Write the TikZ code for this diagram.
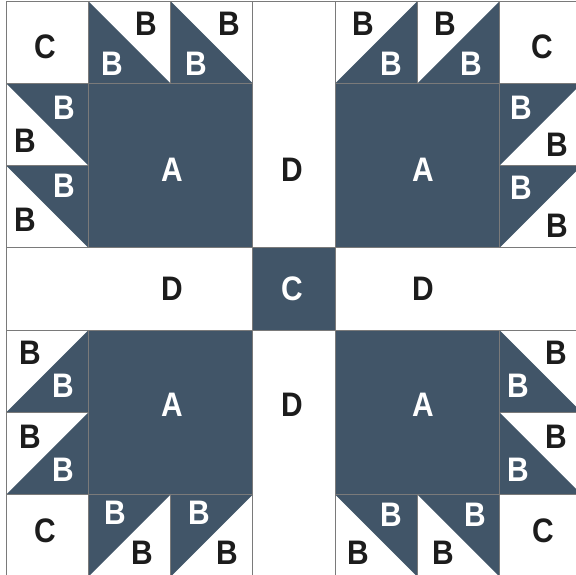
\documentclass[tikz,border=0pt]{standalone}
\usepackage{fontspec}
\setmainfont{Liberation Sans}
\newfontfamily\quiltfont[FakeStretch=0.88]{Liberation Sans}
\definecolor{quiltdark}{HTML}{415568}
\definecolor{gridgray}{HTML}{7A7A7A}
\definecolor{inkblack}{HTML}{1C1C1C}
\newcommand\qx[1]{6.3+(#1)*82.2}
\newcommand\qy[1]{1.3+(#1)*82.2}
\begin{document}
\begin{tikzpicture}[x=1pt,y=-1pt,
  piece/.style={draw=gridgray,line width=1.1pt},
  darkfill/.style={fill=quiltdark},
  lbl/.style={font=\quiltfont\fontsize{34}{34}\selectfont\bfseries,inner sep=0pt,anchor=center},
  lblw/.style={lbl,text=white},
  lblk/.style={lbl,text=inkblack}]
\useasboundingbox (0,0) rectangle (576,575);
\fill[white] (0,0) rectangle (576,575);
\begin{scope}
\clip (0,0) rectangle (576,575);
% dark squares
\foreach \c/\r/\w in {1/1/2,4/1/2,1/4/2,4/4/2,3/3/1}
  \fill[darkfill] ({\qx{\c}},{\qy{\r}}) rectangle ({\qx{\c+\w}},{\qy{\r+\w}});
% dark half-square triangles
\foreach \ax/\ay/\bx/\by/\cx/\cy in {
  1/0/1/1/2/1, 2/0/2/1/3/1, 0/1/1/1/1/2, 0/2/1/2/1/3,
  4/1/5/1/5/0, 5/1/6/1/6/0, 6/1/7/1/6/2, 6/2/7/2/6/3,
  0/5/1/5/1/4, 0/6/1/6/1/5, 1/6/2/6/1/7, 2/6/3/6/2/7,
  6/4/6/5/7/5, 6/5/6/6/7/6, 4/6/5/6/5/7, 5/6/6/6/6/7}
  \fill[darkfill] ({\qx{\ax}},{\qy{\ay}}) -- ({\qx{\bx}},{\qy{\by}}) -- ({\qx{\cx}},{\qy{\cy}}) -- cycle;
% piece outlines: unit squares
\foreach \c/\r in {0/0,1/0,2/0,4/0,5/0,6/0,0/1,0/2,6/1,6/2,0/4,0/5,6/4,6/5,0/6,1/6,2/6,4/6,5/6,6/6,3/3}
  \draw[piece] ({\qx{\c}},{\qy{\r}}) rectangle ({\qx{\c+1}},{\qy{\r+1}});
% A squares
\foreach \c/\r in {1/1,4/1,1/4,4/4}
  \draw[piece] ({\qx{\c}},{\qy{\r}}) rectangle ({\qx{\c+2}},{\qy{\r+2}});
% D strips
\draw[piece] ({\qx{3}},{\qy{0}}) rectangle ({\qx{4}},{\qy{3}});
\draw[piece] ({\qx{3}},{\qy{4}}) rectangle ({\qx{4}},{\qy{7}});
\draw[piece] ({\qx{0}},{\qy{3}}) rectangle ({\qx{3}},{\qy{4}});
\draw[piece] ({\qx{4}},{\qy{3}}) rectangle ({\qx{7}},{\qy{4}});
\end{scope}
% labels: top row
\node[lblk] (c1) at (45,47) {C};
\node[lblk] (b1) at (146,24) {B};
\node[lblw] (b2) at (112,64) {B};
\node[lblk] (b3) at (229,24) {B};
\node[lblw] (b4) at (196,64) {B};
\node[lblk] (b5) at (363,24) {B};
\node[lblw] (b6) at (391,64) {B};
\node[lblk] (b7) at (445,24) {B};
\node[lblw] (b8) at (471,64) {B};
\node[lblk] (c2) at (542,47) {C};
% left/right columns, upper
\node[lblw] (b9) at (64,108) {B};
\node[lblk] (b10) at (25,141) {B};
\node[lblw] (b11) at (64,186) {B};
\node[lblk] (b12) at (25,220) {B};
\node[lblw] (b13) at (521,108) {B};
\node[lblk] (b14) at (557,145) {B};
\node[lblw] (b15) at (521,188) {B};
\node[lblk] (b16) at (557,226) {B};
% A and D
\node[lblw] (a1) at (172,170) {A};
\node[lblk] (d1) at (292,170) {D};
\node[lblw] (a2) at (423,170) {A};
\node[lblk] (d2) at (172,289) {D};
\node[lblw] (c3) at (292,289) {C};
\node[lblk] (d3) at (423,289) {D};
\node[lblw] (a3) at (172,405) {A};
\node[lblk] (d4) at (292,405) {D};
\node[lblw] (a4) at (423,405) {A};
% left/right columns, lower
\node[lblk] (b17) at (30,353) {B};
\node[lblw] (b18) at (63,386) {B};
\node[lblk] (b19) at (30,437) {B};
\node[lblw] (b20) at (63,470) {B};
\node[lblk] (b21) at (556,353) {B};
\node[lblw] (b22) at (518,386) {B};
\node[lblk] (b23) at (556,437) {B};
\node[lblw] (b24) at (518,470) {B};
% bottom row
\node[lblk] (c4) at (45,531) {C};
\node[lblw] (b25) at (115,513) {B};
\node[lblk] (b26) at (142,553) {B};
\node[lblw] (b27) at (199,513) {B};
\node[lblk] (b28) at (227,553) {B};
\node[lblk] (b29) at (358,553) {B};
\node[lblw] (b30) at (391,515) {B};
\node[lblk] (b31) at (443,553) {B};
\node[lblw] (b32) at (475,515) {B};
\node[lblk] (c5) at (543,531) {C};
\end{tikzpicture}
\end{document}
